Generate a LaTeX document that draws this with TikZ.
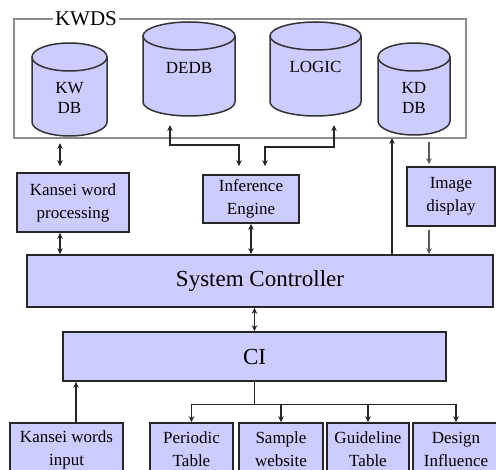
\documentclass[tikz,border=0pt]{standalone}
\usepackage{fontspec}
\setmainfont{Liberation Serif}
\usetikzlibrary{arrows.meta,positioning,calc}
\definecolor{dbfill}{HTML}{CCCCFF}
% a database drum: name, centre x, top y, x radius, bottom y
\newcommand{\dbcyl}[5]{%
  \fill[dbfill] ({#2-#4},{-#3-14}) -- ({#2-#4},{-#5+14})
    arc[start angle=180,end angle=360,x radius=#4,y radius=14]
    -- ({#2+#4},{-#3-14}) -- cycle;
  \draw[dbline] ({#2-#4},{-#3-14}) -- ({#2-#4},{-#5+14})
    arc[start angle=180,end angle=360,x radius=#4,y radius=14]
    -- ({#2+#4},{-#3-14});
  \draw[dbline,fill=dbfill] (#2,{-#3-14}) ellipse [x radius=#4,y radius=14];
  \coordinate (#1) at (#2,-#5);
}

\begin{document}
\begin{tikzpicture}[x=1pt,y=1pt,
  dbline/.style={draw=black!80,line width=1.5pt},
  box/.style={draw=black!85,fill=dbfill,line width=1.6pt,align=center,
    inner sep=0pt,font=\fontsize{17}{23}\selectfont},
  bigbox/.style={box,font=\fontsize{23}{27}\selectfont},
  dblabel/.style={align=center,inner sep=0pt,font=\fontsize{17}{20}\selectfont},
  oneway/.style={draw=black!85,line width=1.5pt,-{Stealth[length=6pt,width=5.5pt]}},
  twoway/.style={oneway,{Stealth[length=6pt,width=5.5pt]}-{Stealth[length=6pt,width=5.5pt]}}]
  \useasboundingbox (0,0) rectangle (496,-470);
  \clip (0,0) rectangle (496,-470);
  % the KWDS store
  \draw[black!45,line width=1.4pt] (14,-19) rectangle (466,-138);
  \node[fill=white,inner xsep=2pt,inner ysep=0pt,font=\fontsize{21}{21}\selectfont] (kwds) at (86,-19) {KWDS};
  \dbcyl{kwdb}{69.5}{43}{37.5}{136}
  \dbcyl{dedb}{189}{22}{46}{116}
  \dbcyl{logic}{315.5}{22}{45.5}{116}
  \dbcyl{kddb}{414}{43}{36}{135}
  \node[dblabel] (kwdb-t) at (69.5,-98) {KW\\DB};
  \node[dblabel] (dedb-t) at (189,-68) {DEDB};
  \node[dblabel] (logic-t) at (315.5,-67) {LOGIC};
  \node[dblabel] (kddb-t) at (414,-97.5) {KD\\DB};
  % the boxes
  \node[box,minimum width=112,minimum height=59] (kwp) at (73,-202.5) {Kansei word\\processing};
  \node[box,minimum width=96,minimum height=48] (ie) at (251,-199) {Inference\\Engine};
  \node[box,minimum width=88,minimum height=59] (img) at (451,-196.5) {Image\\display};
  \node[bigbox,minimum width=466,minimum height=52] (sc) at (260,-281) {System Controller};
  \node[bigbox,minimum width=383,minimum height=49] (ci) at (254.5,-356.5) {CI};
  \node[box,minimum width=113,minimum height=53] (kwi) at (66.5,-449.5) {Kansei words\\input};
  \node[box,minimum width=83,minimum height=53] (pt) at (191.5,-449.5) {Periodic\\Table};
  \node[box,minimum width=84,minimum height=53] (sw) at (281,-449.5) {Sample\\website};
  \node[box,minimum width=82,minimum height=53] (gt) at (368,-449.5) {Guideline\\Table};
  \node[box,minimum width=86,minimum height=53] (di) at (456,-449.5) {Design\\Influence};
  % ports under the store
  \coordinate (kwport) at (60,-136);
  \coordinate (deport) at (170,-116);
  \coordinate (loport) at (334,-116);
  \coordinate (kdin) at (392,-138);
  \coordinate (kdout) at (429,-142);
  % connectors
  \draw[twoway,shorten <=7pt,shorten >=6pt] (kwport) -- (kwport |- kwp.north);
  \draw[twoway] (kwport |- kwp.south) -- (kwport |- sc.north);
  \draw[twoway,shorten <=9pt,shorten >=8pt] (deport) -- ++(0,-29) -| ([xshift=-12pt]ie.north);
  \draw[twoway,shorten <=9pt,shorten >=8pt] (loport) -- ++(0,-31) -| ([xshift=14pt]ie.north);
  \draw[twoway] (ie.south) -- (ie.south |- sc.north);
  \draw[oneway] (kdin |- sc.north) -- (kdin);
  \draw[oneway,draw=black!65,shorten >=2pt] (kdout) -- (kdout |- img.north);
  \draw[oneway,draw=black!65,shorten <=3pt] (kdout |- img.south) -- (kdout |- sc.north);
  \draw[twoway] (ci.north |- sc.south) -- (ci.north);
  \draw[oneway] (kwi.north) ++(9.5,0) coordinate (kwup) -- (kwup |- ci.south);
  \draw[line width=1.5pt,draw=black!85] (ci.south) -- ++(0,-22.5) coordinate (fork);
  \foreach \b in {pt,sw,gt,di}
    \draw[oneway] (fork) -| (\b.north);
\end{tikzpicture}
\end{document}
